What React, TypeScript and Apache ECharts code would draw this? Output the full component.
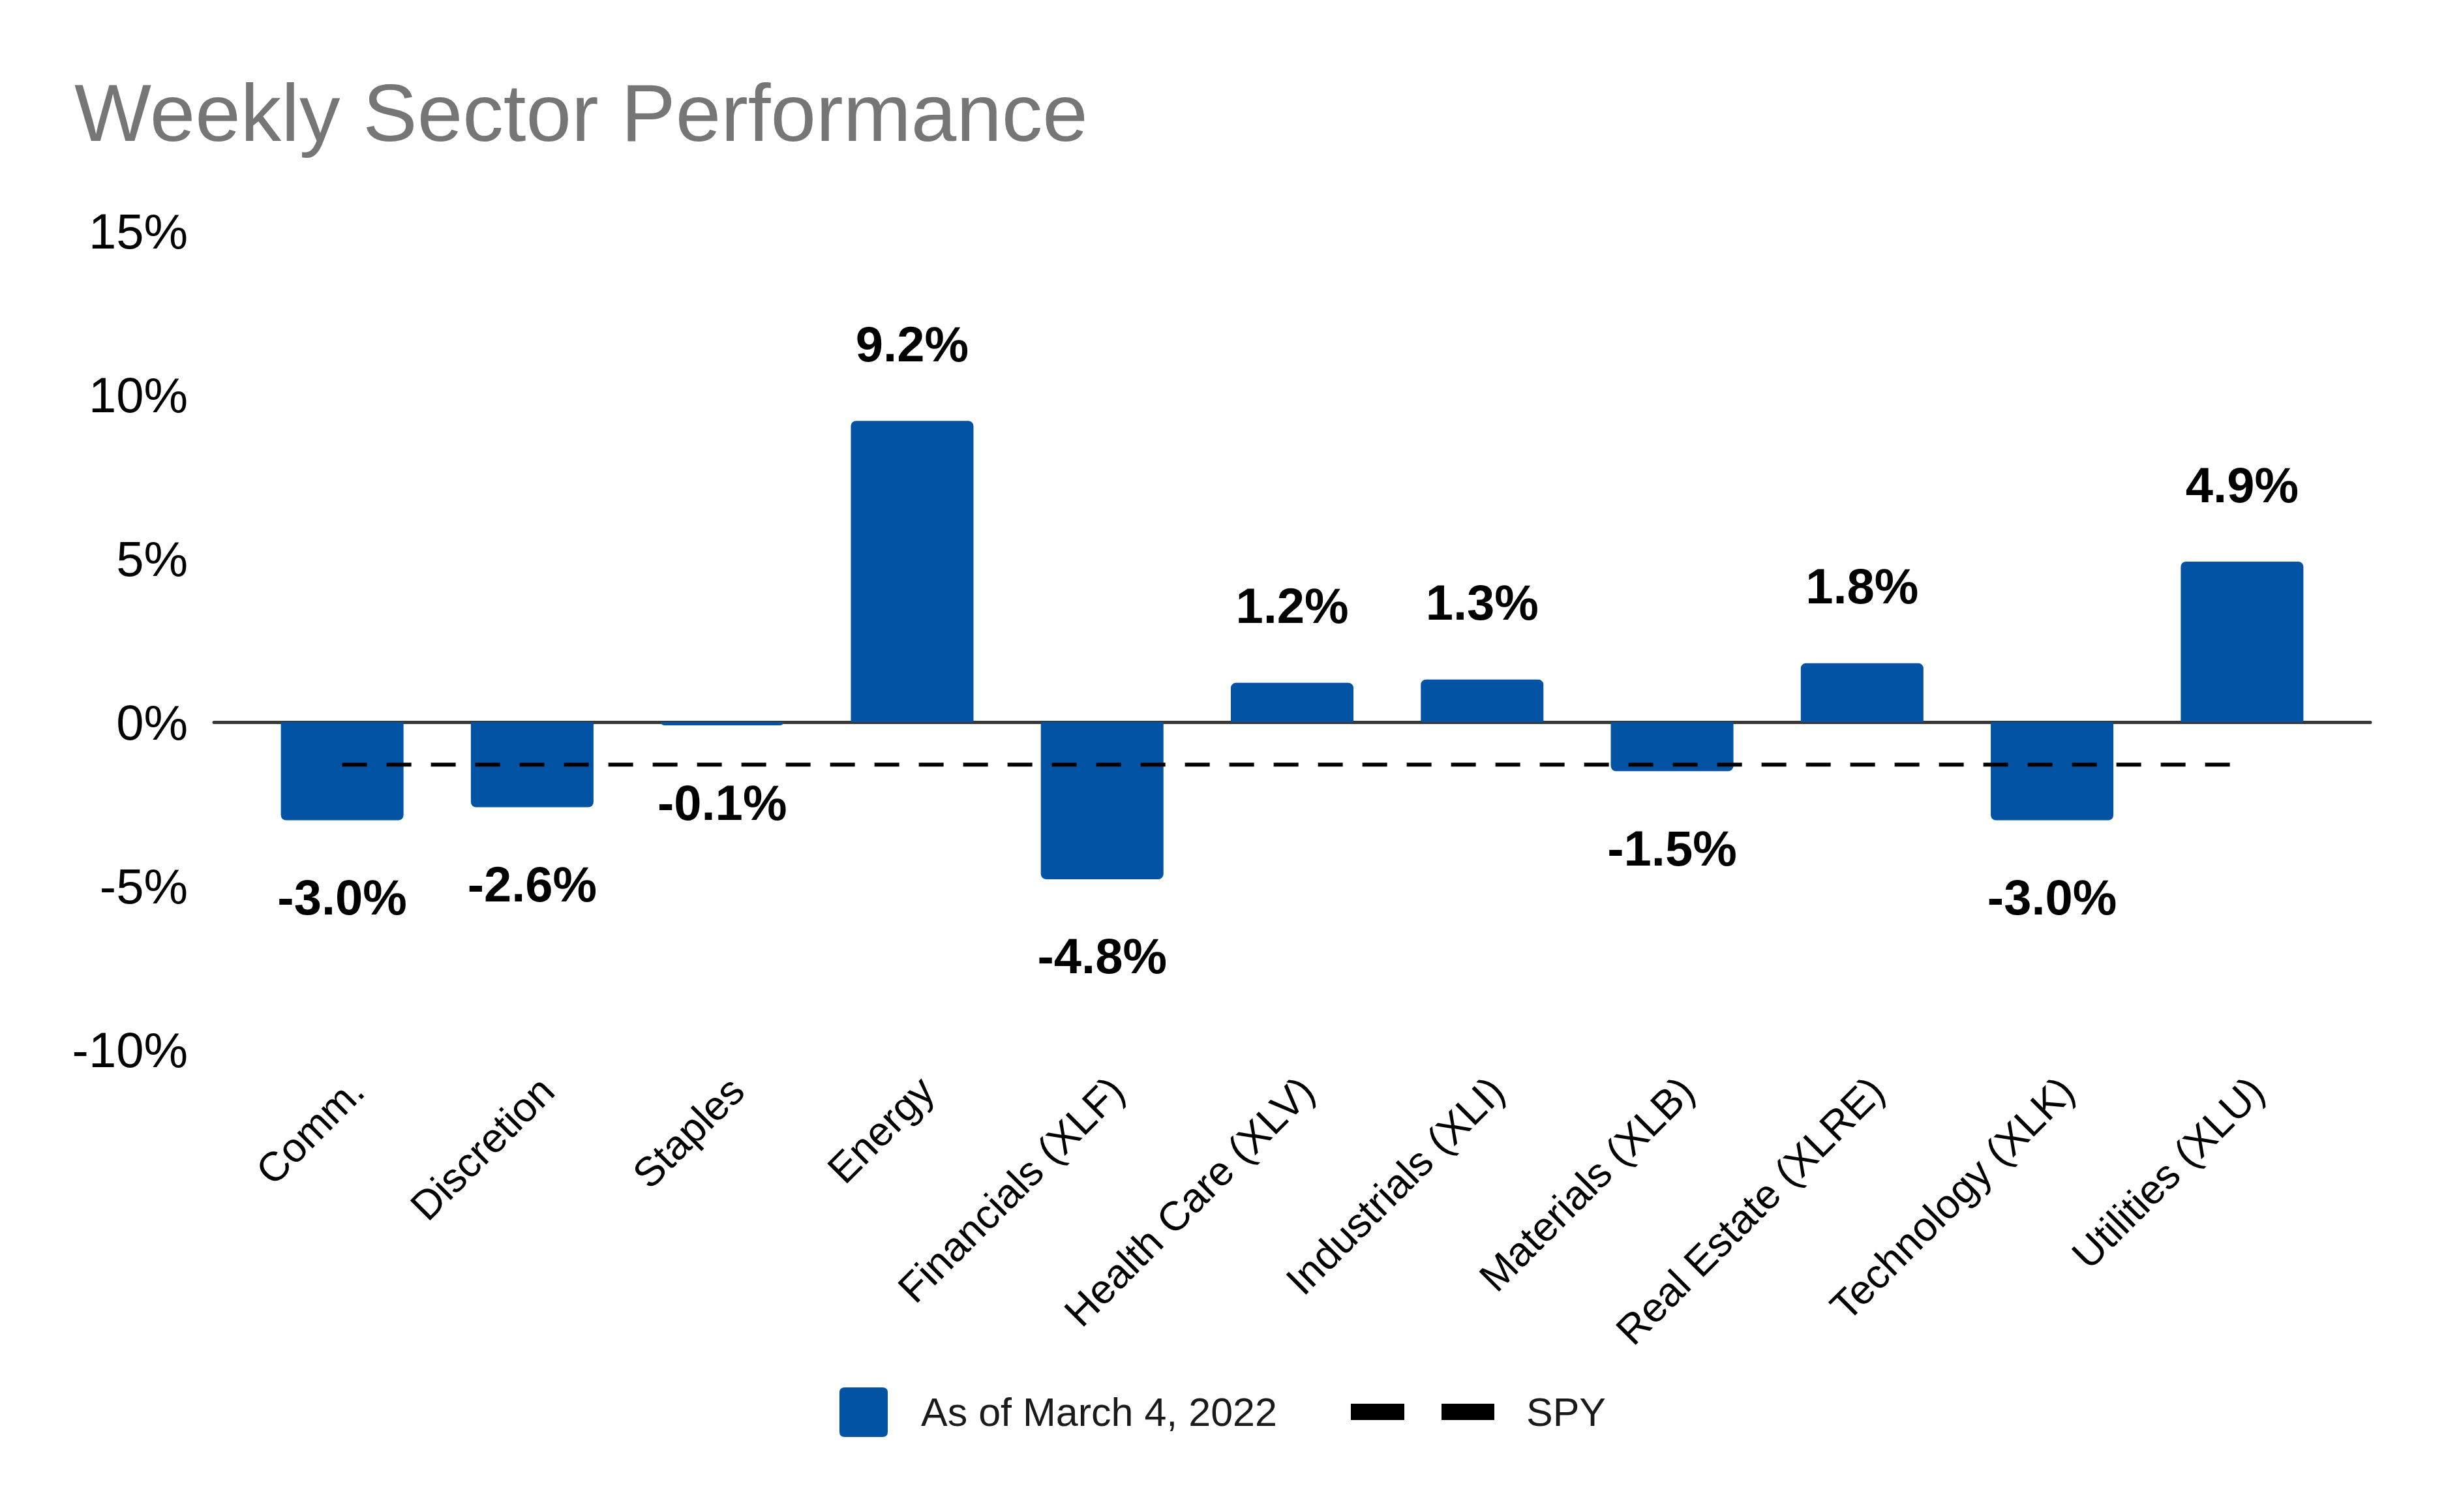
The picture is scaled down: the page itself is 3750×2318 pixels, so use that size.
import React, { useEffect, useRef } from 'react';
import * as echarts from 'echarts';

const categories = [
  'Comm.',
  'Discretion',
  'Staples',
  'Energy',
  'Financials (XLF)',
  'Health Care (XLV)',
  'Industrials (XLI)',
  'Materials (XLB)',
  'Real Estate (XLRE)',
  'Technology (XLK)',
  'Utilities (XLU)',
];
const weeklyReturns = [-3.0, -2.6, -0.1, 9.2, -4.8, 1.2, 1.3, -1.5, 1.8, -3.0, 4.9];
const spyReturns = [-1.3, -1.3, -1.3, -1.3, -1.3, -1.3, -1.3, -1.3, -1.3, -1.3, -1.3];
const barSeriesName = 'As of March 4, 2022';
const lineSeriesName = 'SPY';
const yMin = -10;
const yMax = 15;
const yStep = 5;

const FONT = '"Liberation Sans", Arial, sans-serif';
const BLUE = '#0353a4';

export default function App() {
  const ref = useRef<HTMLDivElement>(null);

  useEffect(() => {
    if (!ref.current) return;
    const chart = echarts.init(ref.current, null, { renderer: 'svg' });

    const barData = weeklyReturns.map((v) => ({
      value: v,
      itemStyle: { borderRadius: v >= 0 ? [8, 8, 0, 0] : [0, 0, 8, 8] },
      label: { position: v >= 0 ? 'top' : 'bottom' },
    }));

    chart.setOption({
      animation: false,
      backgroundColor: '#ffffff',
      textStyle: { fontFamily: FONT },
      title: {
        text: 'Weekly Sector Performance',
        left: 114,
        top: 110,
        padding: 0,
        textStyle: { fontFamily: FONT, fontSize: 125, fontWeight: 'normal', color: '#767676' },
      },
      legend: [
        {
          data: [{ name: barSeriesName, icon: 'path://M8,0 H66 Q74,0 74,8 V68 Q74,76 66,76 H8 Q0,76 0,68 V8 Q0,0 8,0 Z' }],
          left: 1287,
          top: 2127,
          padding: 0,
          itemWidth: 74,
          itemHeight: 76,
          selectedMode: false,
          textStyle: { fontFamily: FONT, fontSize: 61, color: '#1a1a1a', padding: [0, 0, 0, 46] },
        },
        {
          data: [{ name: lineSeriesName, icon: 'path://M0,0 H82 V25 H0 Z M139,0 H220 V25 H139 Z' }],
          left: 2071,
          top: 2134,
          padding: 0,
          itemWidth: 220,
          itemHeight: 25,
          selectedMode: false,
          itemStyle: { color: '#000000', borderWidth: 0 },
          textStyle: { fontFamily: FONT, fontSize: 61, color: '#1a1a1a', padding: [0, 0, 0, 44] },
        },
      ],
      grid: [
        { left: 379, right: 167, top: 354, bottom: 709, containLabel: false },
        { left: 328, right: 116, top: 354, bottom: 709, containLabel: false },
      ],
      xAxis: [
        {
          type: 'category',
          gridIndex: 0,
          data: categories,
          axisLine: { show: false, onZero: false },
          axisTick: { show: false },
          splitLine: { show: false },
          axisLabel: {
            rotate: 45,
            interval: 0,
            margin: 30,
            verticalAlign: 'top',
            fontFamily: FONT,
            fontSize: 63,
            color: '#000000',
          },
        },
        {
          type: 'value',
          gridIndex: 1,
          min: 0,
          max: 1,
          axisLine: { show: true, onZero: true, lineStyle: { color: '#383838', width: 5 } },
          axisTick: { show: false },
          axisLabel: { show: false },
          splitLine: { show: false },
        },
      ],
      yAxis: [
        {
          type: 'value',
          gridIndex: 0,
          min: yMin,
          max: yMax,
          interval: yStep,
          axisLine: { show: false },
          axisTick: { show: false },
          splitLine: { show: false },
          axisLabel: {
            margin: 91,
            fontFamily: FONT,
            fontSize: 76,
            color: '#000000',
            formatter: '{value}%',
          },
        },
        {
          type: 'value',
          gridIndex: 1,
          min: yMin,
          max: yMax,
          interval: yStep,
          show: false,
        },
      ],
      series: [
        {
          name: barSeriesName,
          type: 'bar',
          xAxisIndex: 0,
          yAxisIndex: 0,
          data: barData,
          barWidth: 188,
          itemStyle: { color: BLUE },
          label: {
            show: true,
            distance: 80,
            fontFamily: FONT,
            fontSize: 76,
            fontWeight: 'bold',
            color: '#000000',
            formatter: (p: any) => `${Number(p.value).toFixed(1)}%`,
          },
          z: 2,
        },
        {
          name: lineSeriesName,
          type: 'line',
          xAxisIndex: 0,
          yAxisIndex: 0,
          data: spyReturns,
          symbol: 'none',
          lineStyle: { color: '#000000', width: 6, type: [38, 30] },
          itemStyle: { color: '#000000' },
          z: 3,
        },
      ],
    });

    return () => chart.dispose();
  }, []);

  return (
    <div
      ref={ref}
      style={{ position: 'fixed', left: 0, top: 0, width: '3750px', height: '2318px', background: '#fff' }}
    />
  );
}
